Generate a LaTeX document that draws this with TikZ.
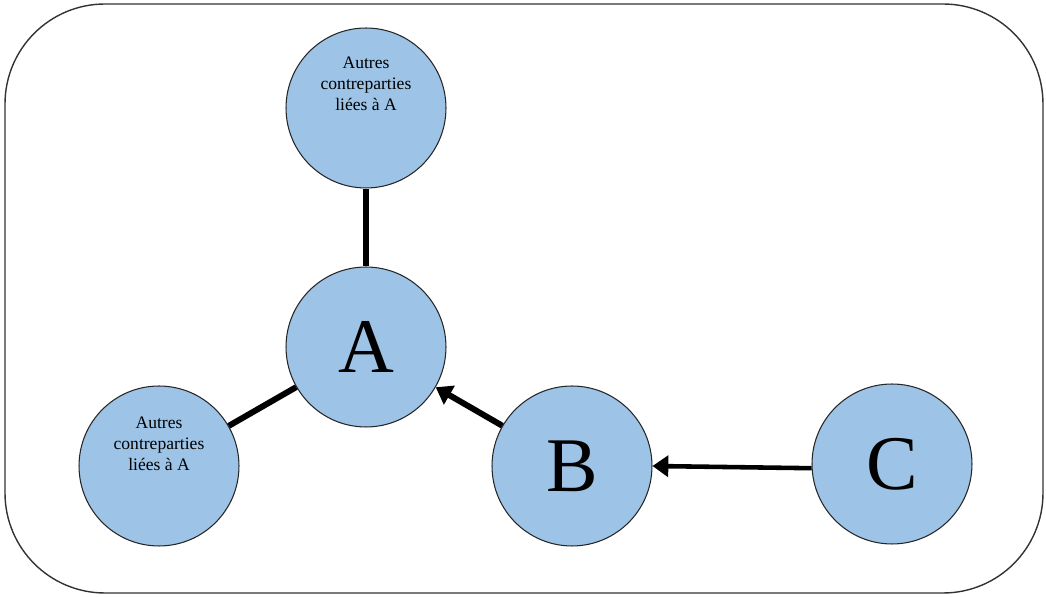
\documentclass[tikz,border=0pt]{standalone}
\usepackage{fontspec}
\setmainfont{Liberation Serif}
\usetikzlibrary{arrows.meta}

\begin{document}
\begin{tikzpicture}
  [x=0.02cm, y=-0.02cm,
   entity/.style = {circle, draw=black!85, line width=0.6pt, fill=blueFill, minimum size=3.2cm, inner sep=0pt},
   bigletter/.style = {font=\fontsize{44}{44}\selectfont},
   smalltext/.style = {align=center, font=\fontsize{10}{12}\selectfont},
   link/.style = {line width=3.4pt},
   influence/.style = {line width=3.4pt, -{Triangle[length=9pt,width=12pt]}}]

\definecolor{blueFill}{HTML}{9DC3E6}
\useasboundingbox (0,0) rectangle (1046,597);

% Frame
\draw[black!80, line width=0.8pt, rounded corners=2cm] (5,4) rectangle (1043,593);

% Entities
\node[entity] (others1) at (366,108) {};
\node[smalltext] (others1Text) at (366,84) {Autres\\contreparties\\liées à A};
\node[entity, bigletter] (A) at (366,347) {A};
\node[entity] (others2) at (159,466) {};
\node[smalltext] (others2Text) at (159,444) {Autres\\contreparties\\liées à A};
\node[entity, bigletter] (B) at (572,466) {B};
\node[entity, bigletter] (C) at (892,464) {C};

% Links to A
\draw[link] (others1) -- (A);
\draw[link] (others2) -- (A);

% Chain C -> B -> A
\draw[influence] (B) -- (A);
\draw[influence, line width=2.6pt] (C.183) -- (B.east);

\end{tikzpicture}
\end{document}
